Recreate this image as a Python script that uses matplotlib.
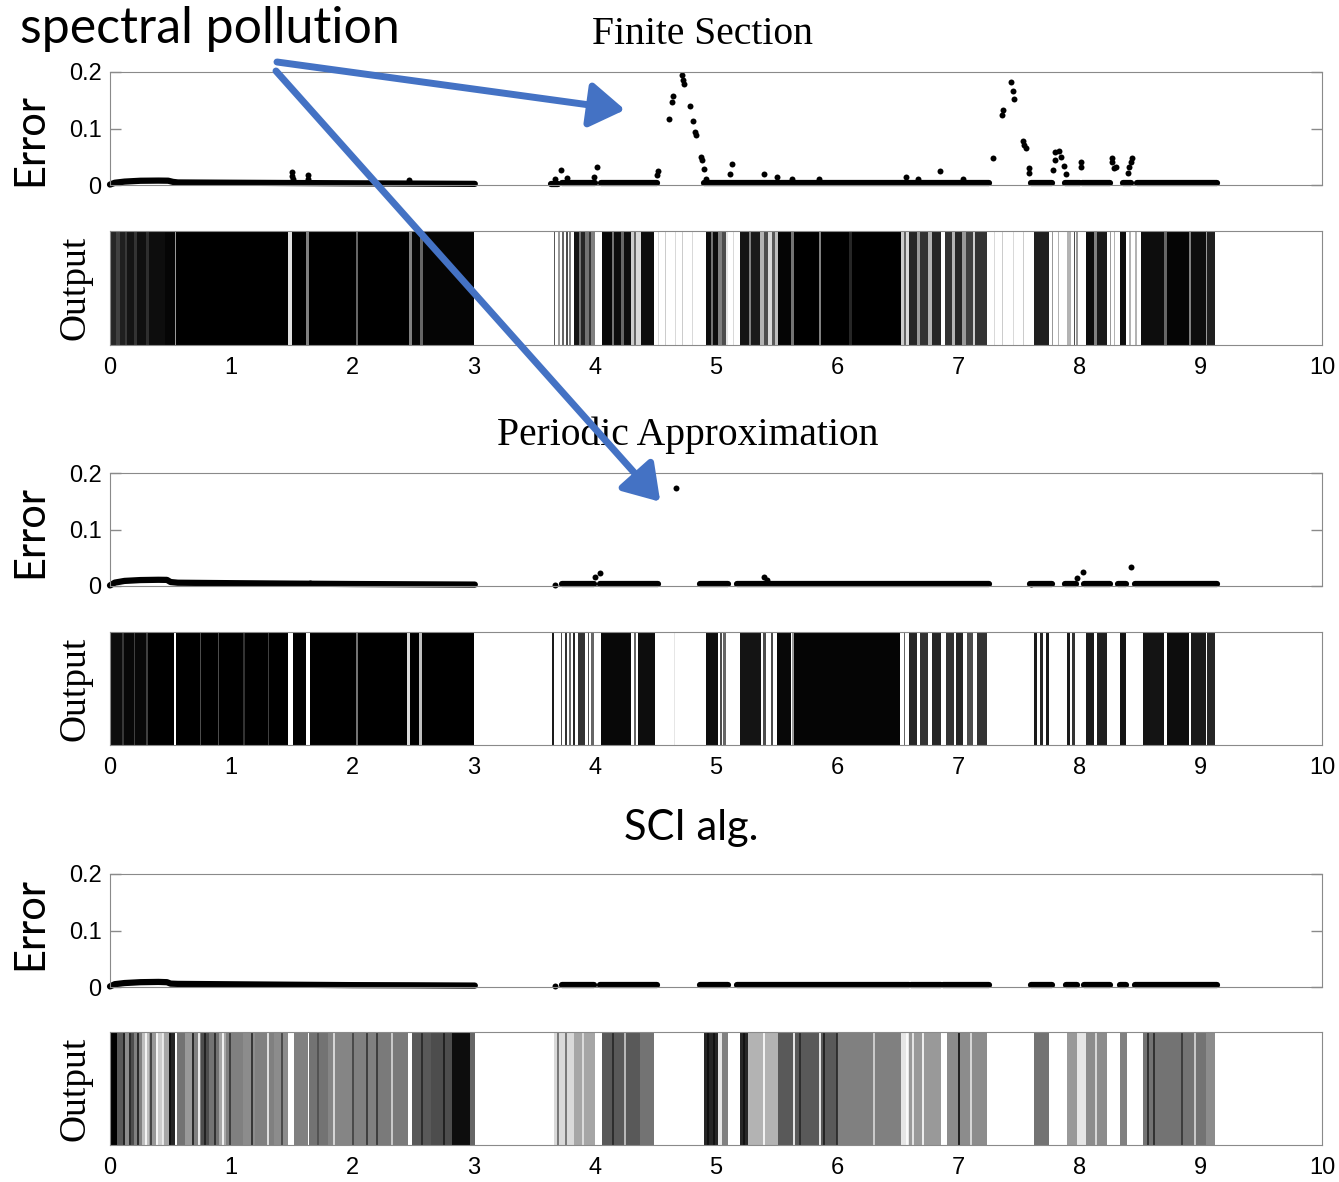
import matplotlib.pyplot as plt
from matplotlib.patches import ConnectionPatch

# ---------------- data ----------------
x_ticks = list(range(11))
err_ticks = [0, 0.1, 0.2]
err_tick_labels = ['0', '0.1', '0.2']
titles = ['Finite Section', 'Periodic Approximation', 'SCI alg.']

# Error panels: dense runs of points (drawn as a thick dotted band) + isolated points
fs_runs = [
    ([0.00, 0.04, 0.12, 0.25, 0.40, 0.48, 0.52, 0.56, 1.0, 1.5, 2.0, 2.5, 3.01],
     [0.0008, 0.004, 0.006, 0.0075, 0.0078, 0.0076, 0.0055, 0.0045, 0.004, 0.0035, 0.003, 0.0025, 0.002]),
    ([3.64, 3.70], [0.002, 0.002]),
    ([3.73, 4.00], [0.003, 0.003]),
    ([4.05, 4.51], [0.003, 0.003]),
    ([4.90, 7.25], [0.003, 0.003]),
    ([7.60, 7.77], [0.003, 0.003]),
    ([7.88, 8.00], [0.003, 0.003]),
    ([8.02, 8.25], [0.003, 0.003]),
    ([8.36, 8.42], [0.003, 0.003]),
    ([8.47, 9.13], [0.003, 0.003]),
]
fs_pts = [(1.50, 0.0235), (1.50, 0.016), (1.51, 0.010), (1.63, 0.017), (1.63, 0.010),
          (2.47, 0.009), (3.668, 0.011), (3.72, 0.0265), (3.77, 0.013), (3.995, 0.014),
          (4.02, 0.031), (4.516, 0.0177), (4.52, 0.024), (4.614, 0.116), (4.634, 0.147),
          (4.647, 0.157), (4.722, 0.194), (4.728, 0.186), (4.734, 0.178), (4.784, 0.139),
          (4.81, 0.113), (4.83, 0.094), (4.835, 0.088), (4.875, 0.050), (4.885, 0.045),
          (4.898, 0.028), (4.92, 0.011), (5.117, 0.019), (5.13, 0.037), (5.40, 0.019),
          (5.50, 0.015), (5.63, 0.010), (5.85, 0.010), (6.57, 0.014), (6.67, 0.010),
          (6.85, 0.025), (7.04, 0.010), (7.287, 0.048), (7.36, 0.124), (7.37, 0.132),
          (7.43, 0.183), (7.45, 0.167), (7.46, 0.153), (7.535, 0.077), (7.545, 0.071),
          (7.56, 0.065), (7.58, 0.0295), (7.585, 0.022), (7.78, 0.027), (7.80, 0.044),
          (7.80, 0.059), (7.83, 0.061), (7.85, 0.050), (7.87, 0.034), (7.89, 0.019),
          (8.01, 0.041), (8.015, 0.032), (8.265, 0.047), (8.27, 0.041), (8.28, 0.030),
          (8.30, 0.032), (8.40, 0.022), (8.41, 0.032), (8.42, 0.041), (8.43, 0.048)]

pa_runs = [
    ([0.00, 0.04, 0.12, 0.25, 0.40, 0.47, 0.50, 0.56, 1.0, 1.5, 2.0, 2.5, 3.01],
     [0.001, 0.006, 0.009, 0.0105, 0.011, 0.0108, 0.007, 0.0058, 0.005, 0.0042, 0.0035, 0.003, 0.0025]),
    ([3.73, 3.995], [0.003, 0.003]),
    ([4.04, 4.52], [0.003, 0.003]),
    ([4.87, 5.10], [0.003, 0.003]),
    ([5.17, 7.25], [0.003, 0.003]),
    ([7.59, 7.77], [0.003, 0.003]),
    ([7.88, 7.97], [0.003, 0.003]),
    ([8.04, 8.25], [0.003, 0.003]),
    ([8.32, 8.38], [0.003, 0.003]),
    ([8.46, 9.13], [0.003, 0.003]),
]
pa_pts = [(1.65, 0.006), (3.668, 0.001), (4.00, 0.0153), (4.043, 0.0236), (4.673, 0.173),
          (5.398, 0.0153), (5.42, 0.011), (7.60, 0.004), (7.98, 0.0136), (8.03, 0.0254),
          (8.42, 0.034)]

sci_runs = [
    ([0.00, 0.04, 0.12, 0.25, 0.40, 0.47, 0.50, 0.56, 1.0, 1.5, 2.0, 2.5, 3.01],
     [0.001, 0.005, 0.007, 0.0085, 0.009, 0.0085, 0.006, 0.0055, 0.0048, 0.004, 0.0033, 0.003, 0.0025]),
    ([3.73, 3.99], [0.003, 0.003]),
    ([4.04, 4.51], [0.003, 0.003]),
    ([4.87, 5.10], [0.003, 0.003]),
    ([5.17, 6.59], [0.003, 0.003]),
    ([6.61, 6.86], [0.003, 0.003]),
    ([6.87, 7.25], [0.003, 0.003]),
    ([7.60, 7.77], [0.003, 0.003]),
    ([7.89, 7.98], [0.003, 0.003]),
    ([8.04, 8.25], [0.003, 0.003]),
    ([8.33, 8.38], [0.003, 0.003]),
    ([8.46, 9.13], [0.003, 0.003]),
]
sci_pts = [(3.668, 0.001)]

# Output panels: bands (x0, x1, grey level 0=black .. 1=white); white elsewhere
fs_bands = [
    (0.00, 0.05, 0.15), (0.05, 0.08, 0.25), (0.08, 0.12, 0.12), (0.12, 0.14, 0.22),
    (0.14, 0.20, 0.08), (0.20, 0.22, 0.20), (0.22, 0.30, 0.06), (0.30, 0.32, 0.18),
    (0.32, 0.45, 0.05), (0.45, 0.535, 0.02), (0.535, 0.548, 0.60), (0.548, 1.47, 0.0),
    (1.47, 1.50, 0.88), (1.50, 1.62, 0.0), (1.62, 1.64, 0.50), (1.64, 2.03, 0.0),
    (2.03, 2.05, 0.40), (2.05, 2.47, 0.0), (2.47, 2.49, 0.50), (2.49, 2.56, 0.02),
    (2.56, 2.58, 0.40), (2.58, 3.00, 0.02),
    (3.66, 3.67, 0.35), (3.70, 3.71, 0.60), (3.73, 3.745, 0.40), (3.76, 3.78, 0.30),
    (3.79, 3.80, 0.50), (3.83, 3.87, 0.08), (3.87, 3.89, 0.45), (3.89, 3.92, 0.15),
    (3.92, 3.95, 0.45), (3.95, 3.97, 0.20), (3.97, 4.00, 0.50),
    (4.06, 4.14, 0.03), (4.14, 4.16, 0.45), (4.16, 4.22, 0.05), (4.22, 4.24, 0.40),
    (4.24, 4.30, 0.05), (4.30, 4.32, 0.80), (4.32, 4.34, 0.40), (4.34, 4.38, 0.85),
    (4.38, 4.49, 0.05),
    (4.52, 4.53, 0.85), (4.58, 4.59, 0.80), (4.66, 4.67, 0.85), (4.72, 4.73, 0.80),
    (4.80, 4.81, 0.85),
    (4.92, 4.96, 0.05), (4.96, 4.975, 0.45), (4.975, 5.02, 0.05), (5.02, 5.05, 0.50),
    (5.05, 5.08, 0.30), (5.08, 5.10, 0.90), (5.14, 5.15, 0.85), (5.20, 5.27, 0.08),
    (5.27, 5.29, 0.50), (5.29, 5.365, 0.10), (5.365, 5.40, 0.70), (5.40, 5.43, 0.30),
    (5.43, 5.46, 0.85), (5.46, 5.49, 0.35), (5.49, 5.51, 0.75), (5.51, 5.62, 0.02),
    (5.62, 5.64, 0.45), (5.64, 5.85, 0.0), (5.85, 5.87, 0.50), (5.87, 6.10, 0.0),
    (6.10, 6.12, 0.15), (6.12, 6.525, 0.0), (6.525, 6.55, 0.80), (6.55, 6.57, 0.40),
    (6.57, 6.59, 0.85), (6.59, 6.66, 0.15), (6.66, 6.68, 0.60), (6.68, 6.75, 0.20),
    (6.75, 6.78, 0.70), (6.78, 6.856, 0.15), (6.89, 6.95, 0.20), (6.95, 6.97, 0.70),
    (6.97, 7.03, 0.15), (7.03, 7.06, 0.60), (7.06, 7.12, 0.25), (7.12, 7.14, 0.80),
    (7.14, 7.237, 0.20),
    (7.29, 7.30, 0.85), (7.36, 7.37, 0.80), (7.45, 7.46, 0.85), (7.53, 7.54, 0.80),
    (7.62, 7.75, 0.12), (7.77, 7.78, 0.60), (7.82, 7.83, 0.70), (7.90, 7.93, 0.70),
    (7.95, 7.96, 0.30), (7.97, 7.99, 0.60), (8.05, 8.12, 0.05), (8.12, 8.14, 0.50),
    (8.14, 8.23, 0.10), (8.25, 8.26, 0.60), (8.28, 8.29, 0.70), (8.33, 8.38, 0.05),
    (8.41, 8.42, 0.70), (8.46, 8.47, 0.70), (8.51, 8.70, 0.05), (8.70, 8.72, 0.40),
    (8.72, 8.90, 0.02), (8.90, 8.92, 0.50), (8.92, 9.04, 0.05), (9.04, 9.05, 0.60),
    (9.05, 9.116, 0.12),
]

pa_bands = [
    (0.00, 0.10, 0.05), (0.10, 0.115, 0.22), (0.115, 0.20, 0.03), (0.20, 0.21, 0.25),
    (0.21, 0.30, 0.03), (0.30, 0.31, 0.25), (0.31, 0.53, 0.0), (0.548, 0.74, 0.0),
    (0.74, 0.75, 0.30), (0.75, 0.89, 0.0), (0.89, 0.90, 0.30), (0.90, 1.10, 0.0),
    (1.10, 1.11, 0.20), (1.11, 1.30, 0.0), (1.30, 1.31, 0.25), (1.31, 1.47, 0.0),
    (1.51, 1.62, 0.0), (1.65, 2.03, 0.0), (2.03, 2.05, 0.45), (2.05, 2.45, 0.0),
    (2.45, 2.475, 0.85), (2.475, 2.55, 0.0), (2.55, 2.575, 0.75), (2.575, 3.00, 0.0),
    (3.65, 3.665, 0.10), (3.72, 3.73, 0.30), (3.75, 3.77, 0.20), (3.79, 3.80, 0.40),
    (3.82, 3.84, 0.15), (3.86, 3.92, 0.20), (3.94, 3.95, 0.30), (3.97, 3.99, 0.40),
    (4.05, 4.30, 0.03), (4.32, 4.34, 0.40), (4.36, 4.50, 0.05), (4.65, 4.66, 0.90),
    (4.92, 5.02, 0.05), (5.03, 5.05, 0.30), (5.06, 5.08, 0.40), (5.20, 5.37, 0.08),
    (5.39, 5.41, 0.30), (5.45, 5.47, 0.30), (5.50, 5.62, 0.03), (5.63, 5.64, 0.60),
    (5.64, 6.52, 0.02), (6.55, 6.56, 0.40), (6.59, 6.66, 0.15), (6.68, 6.75, 0.20),
    (6.78, 6.86, 0.15), (6.90, 6.96, 0.20), (6.98, 7.04, 0.15), (7.07, 7.12, 0.30),
    (7.15, 7.24, 0.20),
    (7.62, 7.65, 0.10), (7.67, 7.70, 0.15), (7.72, 7.75, 0.10), (7.90, 7.92, 0.10),
    (7.94, 7.96, 0.20), (8.05, 8.12, 0.10), (8.14, 8.23, 0.12), (8.33, 8.38, 0.08),
    (8.52, 8.70, 0.08), (8.72, 8.90, 0.05), (8.92, 9.04, 0.10), (9.05, 9.12, 0.15),
]

sci_bands = [
    (0.00, 0.06, 0.0), (0.06, 0.12, 0.35), (0.12, 0.16, 0.55), (0.16, 0.20, 0.30),
    (0.20, 0.26, 0.50), (0.26, 0.32, 0.75), (0.32, 0.38, 0.60), (0.38, 0.44, 0.80),
    (0.44, 0.49, 0.65), (0.49, 0.535, 0.15), (0.55, 0.62, 0.45), (0.62, 0.68, 0.60),
    (0.68, 0.75, 0.50), (0.75, 0.82, 0.30), (0.82, 0.90, 0.45), (0.90, 0.96, 0.65),
    (0.96, 1.10, 0.50), (1.10, 1.20, 0.55), (1.20, 1.35, 0.50), (1.35, 1.47, 0.55),
    (1.515, 1.63, 0.50), (1.645, 1.80, 0.45), (1.80, 2.00, 0.52), (2.00, 2.20, 0.50),
    (2.20, 2.46, 0.48), (2.495, 2.65, 0.35), (2.65, 2.82, 0.30), (2.82, 2.97, 0.05),
    (2.97, 3.01, 0.40),
    (3.66, 3.83, 0.85), (3.83, 4.00, 0.65), (4.06, 4.37, 0.35), (4.37, 4.49, 0.45),
    (4.90, 5.02, 0.15), (5.02, 5.05, 0.90), (5.05, 5.10, 0.50), (5.20, 5.265, 0.15),
    (5.265, 5.51, 0.70), (5.51, 6.00, 0.35), (6.00, 6.525, 0.50), (6.525, 6.59, 0.90),
    (6.59, 6.856, 0.60), (6.906, 7.237, 0.55), (7.62, 7.75, 0.45), (7.90, 7.98, 0.60),
    (7.98, 8.05, 0.90), (8.05, 8.23, 0.55), (8.33, 8.39, 0.50), (8.52, 9.04, 0.45),
    (9.04, 9.12, 0.55),
]
# thin single lines laid over the SCI bands (x, grey level)
sci_lines = [(0.113, 0.1), (0.162, 0.15), (0.227, 0.1), (0.293, 1.0), (0.342, 0.2),
             (0.39, 1.0), (0.44, 0.95), (0.498, 0.05), (0.684, 0.1), (0.733, 1.0),
             (0.782, 0.1), (0.863, 0.15), (0.929, 1.0), (0.994, 0.2), (1.173, 0.15),
             (1.304, 0.95), (1.42, 0.25), (1.72, 0.3), (1.85, 0.9), (2.005, 0.25),
             (2.119, 0.2), (2.201, 0.2), (2.33, 0.85), (2.576, 0.15), (2.755, 0.1),
             (3.70, 0.4), (3.76, 0.4), (3.90, 0.9), (4.15, 0.15), (4.25, 0.8),
             (4.934, 0.05), (4.984, 0.05), (5.232, 0.05), (5.133, 1.0), (5.398, 1.0),
             (5.647, 1.0), (5.696, 0.15), (5.862, 1.0), (5.895, 0.1), (5.995, 0.15),
             (6.30, 0.85), (6.574, 1.0), (6.624, 0.95), (6.707, 1.0), (7.005, 0.05),
             (7.10, 0.9), (8.132, 0.9), (8.562, 0.15), (8.612, 0.15), (8.844, 0.2),
             (8.95, 0.85)]

# ---------------- layout (pixel rows of the reference) ----------------
W, H = 1339, 1182
err_rows = [(72, 185), (473, 586), (874, 987)]
out_rows = [(231, 345), (632, 745), (1032, 1145)]
title_y = [35, 435, 828]
title_x = [703, 688, 691]
frame = '#8a8a8a'

fig = plt.figure(figsize=(W / 100, H / 100), dpi=100)


def box(top, bottom):
    return [110 / W, 1 - bottom / H, 1212 / W, (bottom - top) / H]


err_axes = []
groups = [(fs_runs, fs_pts, fs_bands, []), (pa_runs, pa_pts, pa_bands, []),
          (sci_runs, sci_pts, sci_bands, sci_lines)]
for i, (runs, pts, bands, lines) in enumerate(groups):
    ax = fig.add_axes(box(*err_rows[i]))
    for xs, ys in runs:
        ax.plot(xs, ys, color='k', lw=4.5, solid_capstyle='round', clip_on=False)
    if pts:
        px, py = zip(*pts)
        ax.plot(px, py, 'o', color='k', ms=4.3, mew=0, clip_on=False)
    ax.set_xlim(0, 10)
    ax.set_ylim(0, 0.2)
    ax.set_xticks([])
    ax.set_yticks(err_ticks)
    ax.set_yticklabels(err_tick_labels, family='Liberation Sans', fontsize=17)
    ax.tick_params(axis='y', direction='in', length=8, width=1, color=frame,
                   left=True, right=True, pad=6)
    for s in ax.spines.values():
        s.set_color(frame)
    err_axes.append(ax)

    ax2 = fig.add_axes(box(*out_rows[i]))
    for x0, x1, g in bands:
        ax2.axvspan(x0, x1, color=str(g), lw=0)
    for xl, g in lines:
        ax2.axvline(xl, color=str(g), lw=1.2)
    ax2.set_xlim(0, 10)
    ax2.set_ylim(0, 1)
    ax2.set_yticks([])
    ax2.set_xticks(x_ticks)
    ax2.set_xticklabels([str(t) for t in x_ticks], family='Liberation Sans', fontsize=17)
    ax2.tick_params(axis='x', length=0, pad=9)
    for s in ax2.spines.values():
        s.set_color(frame)
        s.set_zorder(5)

    # titles and labels
    if i < 2:
        fig.text(title_x[i] / W, 1 - title_y[i] / H, titles[i], family='Liberation Serif',
                 fontsize=28.5, ha='center', va='center')
    else:
        fig.text(title_x[i] / W, 1 - title_y[i] / H, titles[i], family='Lato',
                 fontsize=30, ha='center', va='center')
    err_mid = [140, 531, 923][i]
    fig.text(30 / W, 1 - err_mid / H, 'Error', family='Lato', fontsize=30,
             rotation=90, ha='center', va='center')
    out_mid = (out_rows[i][0] + out_rows[i][1]) / 2
    fig.text(75 / W, 1 - out_mid / H, 'Output', family='Liberation Serif', fontsize=27,
             rotation=90, ha='center', va='center')

fig.text(20 / W, 1 - 29 / H, 'spectral pollution', family='Lato', fontsize=36,
         ha='left', va='center')

# arrows pointing at the spurious eigenvalues
blue = '#4472C4'
arrow_style = '-|>,head_length=0.85,head_width=0.55'
for start, tip, ax in [((277, 62), (4.25, 0.133), err_axes[0]),
                       ((276, 71), (4.54, 0.149), err_axes[1])]:
    con = ConnectionPatch(xyA=(start[0] / W, 1 - start[1] / H), coordsA='figure fraction',
                          xyB=tip, coordsB=ax.transData, arrowstyle=arrow_style,
                          mutation_scale=25, lw=5, color=blue, zorder=10)
    fig.add_artist(con)

fig.savefig('out.png', dpi=100)
